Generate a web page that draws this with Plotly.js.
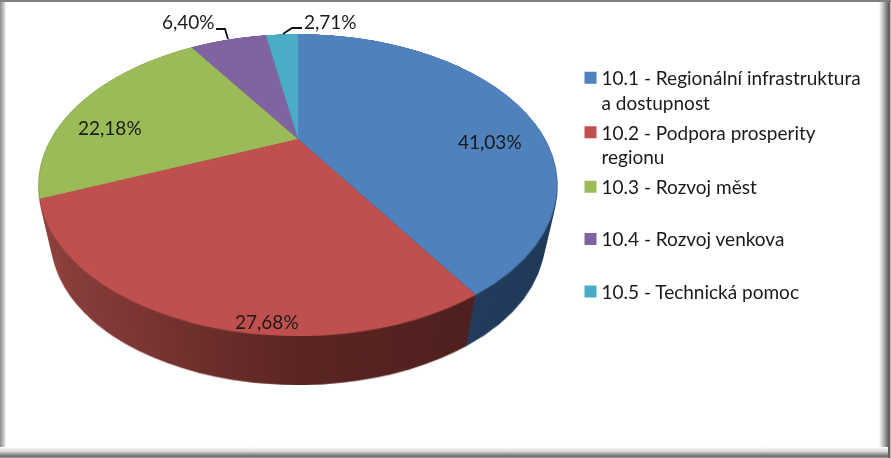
<!DOCTYPE html>
<html><head><meta charset="utf-8">
<script src="https://cdn.plot.ly/plotly-3.0.1.min.js"></script>
<style>
html,body{margin:0;padding:0;background:#fff;overflow:hidden}
#stage{position:relative;width:891px;height:458px;overflow:hidden;background:#fff}
.abs{position:absolute;left:0;top:0}
.band{position:absolute;pointer-events:none}
</style></head><body>
<div id="stage">
  <div class="band" style="left:0;top:0;width:6px;height:458px;background:linear-gradient(90deg,#8c8c8c,#a8a8a8 30%,#d0d0d0 70%,#fff)"></div>
  <div class="band" style="left:879px;top:0;width:12px;height:458px;background:linear-gradient(90deg,#fff,#c8c8c8 30%,#8a8a8a 60%,#555 85%,#777 92%,#fff)"></div>
  <div class="band" style="left:0;top:0;width:891px;height:2px;background:#808080"></div>
  <div class="band" style="left:0;top:447px;width:888px;height:11px;background:linear-gradient(180deg,#fff,#d8d8d8 40%,#8c8c8c 70%,#6a6a6a 85%,#b0b0b0 100%)"></div>
  <div id="walls" class="abs"></div>
  <div id="top" class="abs" style="width:500px;height:500px;transform-origin:0 0"></div>
  <div id="over" class="abs" style="width:891px;height:458px"></div>
</div>
<script>
var categories = ['10.1 - Regionální infrastruktura<br>a dostupnost','10.2 - Podpora prosperity<br>regionu','10.3 - Rozvoj měst<br> ','10.4 - Rozvoj venkova<br> ','10.5 - Technická pomoc<br> '];
var values = [41.03,27.68,22.18,6.40,2.71];
var colors = ['#4f81bd','#c0504d','#9bbb59','#8064a2','#4bacc6'];
var sideColors = ['#1f3a5c','#6b2a28','#5c7030','#4a3a60','#2a6a7a'];
var fontFamily = 'Lato, "Open Sans", sans-serif';
var labelSpots = [[489.5,142],[266.5,321],[109.5,127],[188.5,21],[330,21]];
var leaders = [[[216,29],[225,29],[228,39]],[[302,28],[292,28],[283,34]]];
var legendNudges = [-3,-1,1,1,1];

var W=891,H=458;
function px(x){return x/W;} function py(y){return 1-y/H;}

// projective tilt of the flat pie (source is a 500x500 plot)
var b=0.3048,a=137,c=247,cx=298,cy=139,S=500;
var m=[c/250,0,0,0, -cx*b/250,(a-cy*b)/250,0,-b/250, 0,0,1,0, cx*(1+b)-c,cy*(1+b)-a,0,1+b];
var H3='matrix3d('+m.join(',')+')';

function pieTrace(cols){return {type:'pie',labels:categories,values:values,sort:false,direction:'clockwise',rotation:0,
  textinfo:'none',hoverinfo:'skip',marker:{colors:cols,line:{width:0}},domain:{x:[0,1],y:[0,1]}};}
var flat={width:S,height:S,margin:{l:0,r:0,t:0,b:0},paper_bgcolor:'rgba(0,0,0,0)',showlegend:false};
var cfg={displayModeBar:false,staticPlot:true};

var overLayout={width:W,height:H,margin:{l:0,r:0,t:0,b:0},paper_bgcolor:'rgba(0,0,0,0)',
  hiddenlabels:categories,showlegend:true,
  legend:{x:px(570.5),y:py(62),xanchor:'left',yanchor:'top',bgcolor:'rgba(0,0,0,0)',valign:'top',itemwidth:30,
    font:{family:fontFamily,size:19,color:'#1a1a1a'}},
  annotations:values.map(function(v,i){return {xref:'paper',yref:'paper',x:px(labelSpots[i][0]),y:py(labelSpots[i][1]),
    text:v.toFixed(2).replace('.',',')+'%',showarrow:false,xanchor:'center',yanchor:'middle',
    font:{family:fontFamily,size:19,color:'#1a1a1a'}};}),
  shapes:leaders.map(function(l){return {type:'path',xref:'paper',yref:'paper',line:{color:'#111',width:1.8},
    path:l.map(function(p,i){return (i?'L':'M')+px(p[0])+','+py(p[1]);}).join(' ')};})
};

var wallHost=document.getElementById('walls');
var base=document.createElement('div');
base.className='abs';base.style.width=S+'px';base.style.height=S+'px';base.style.transformOrigin='0 0';
wallHost.appendChild(base);

Plotly.newPlot(base,[pieTrace(sideColors)],flat,cfg).then(function(){
  var svg=base.querySelector('svg.main-svg');
  var NS='http://www.w3.org/2000/svg';
  var defs=document.createElementNS(NS,'defs');
  function grad(id,stops){var g=document.createElementNS(NS,'linearGradient');g.setAttribute('id',id);
    g.setAttribute('gradientUnits','userSpaceOnUse');g.setAttribute('x1',0);g.setAttribute('x2',S);g.setAttribute('y1',0);g.setAttribute('y2',0);
    stops.forEach(function(s){var t=document.createElementNS(NS,'stop');t.setAttribute('offset',s[0]);t.setAttribute('stop-color',s[1]);g.appendChild(t);});
    defs.appendChild(g);}
  grad('wallRed',[[0,'#934340'],[0.25,'#7c3532'],[0.5,'#5a2422'],[0.8,'#4c1e1c'],[1,'#4c1e1c']]);
  grad('wallBlue',[[0,'#2a4a72'],[1,'#1e3655']]);
  svg.insertBefore(defs,svg.firstChild);
  var slices=base.querySelectorAll('.slice path.surface');
  if(slices[0])slices[0].style.fill='url(#wallBlue)';
  if(slices[1])slices[1].style.fill='url(#wallRed)';
  var N=50,vx=298,vy=1294,k=0.051;
  var frag=document.createDocumentFragment();
  for(var i=N;i>=0;i--){
    var s=1-k*i/N;
    var d=i===0?base:base.cloneNode(true);
    d.style.transform='translate('+vx+'px,'+vy+'px) scale('+s+') translate('+(-vx)+'px,'+(-vy)+'px) '+H3;
    frag.appendChild(d);
  }
  wallHost.appendChild(frag);
});
var topDiv=document.getElementById('top');
topDiv.style.transform=H3;
Plotly.newPlot(topDiv,[pieTrace(colors)],flat,cfg);

var over=document.getElementById('over');
Plotly.newPlot(over,[pieTrace(colors)],overLayout,cfg).then(function(){
  over.querySelectorAll('.legend .traces').forEach(function(t,i){
    t.style.opacity=1;
    var tr=t.getAttribute('transform')||'';
    t.setAttribute('transform',tr+' translate(0,'+legendNudges[i]+')');
  });
  over.querySelectorAll('.legend .legendtext, .legend .legendtext tspan.line').forEach(function(n){
    var x=parseFloat(n.getAttribute('x'));
    if(!isNaN(x))n.setAttribute('x',x-9);
  });
});
</script>
</body></html>
